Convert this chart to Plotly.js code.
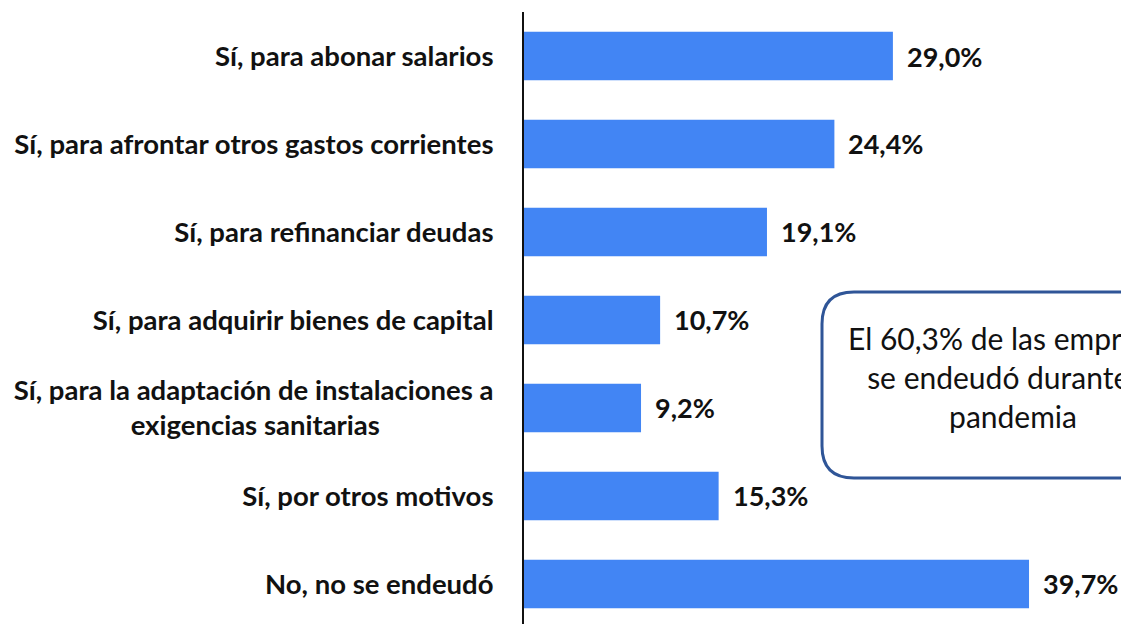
<!DOCTYPE html>
<html>
<head>
<meta charset="utf-8">
<script src="https://cdn.plot.ly/plotly-3.0.1.min.js"></script>
<style>
  html, body { margin: 0; padding: 0; background: #fff; }
  #chart { width: 1121px; height: 624px; }
</style>
</head>
<body>
<div id="chart"></div>
<script>
// --- Data ---
const categories = [
    'Sí, para abonar salarios',
    'Sí, para afrontar otros gastos corrientes',
    'Sí, para refinanciar deudas',
    'Sí, para adquirir bienes de capital',
    'Sí, para la adaptación de instalaciones a<br>exigencias sanitarias' + '\u00a0'.repeat(17),
    'Sí, por otros motivos',
    'No, no se endeudó'
];
const values = [29.0, 24.4, 19.1, 10.7, 9.2, 15.3, 39.7];
const noteText = 'El 60,3% de las empresas<br>se endeudó durante la<br>pandemia';

const fmt = v => v.toFixed(1).replace('.', ',') + '%';
const font = 'Lato, "Open Sans", sans-serif';

// --- Bars ---
const trace = {
    type: 'bar',
    orientation: 'h',
    x: values,
    y: categories,
    marker: { color: '#4285F4' },
    width: 0.55,
    hoverinfo: 'skip'
};

// value labels sit just past the bar end
const labels = values.map((v, i) => ({
    x: v,
    y: categories[i],
    xref: 'x',
    yref: 'y',
    text: fmt(v),
    showarrow: false,
    xanchor: 'left',
    xshift: 12,
    font: { family: font, size: 27, color: '#111', weight: 'bold' }
}));

// --- Rounded note box (paper coords) ---
const W = 1121 - 524, H = 624 - 12;
const px = x => (x - 524) / W;
const py = y => 1 - (y - 12) / H;
const bx0 = 822, bx1 = 1204, by0 = 292, by1 = 478, r = 32;
const boxPath = [
    `M ${px(bx0 + r)} ${py(by0)}`,
    `L ${px(bx1 - r)} ${py(by0)}`,
    `Q ${px(bx1)} ${py(by0)} ${px(bx1)} ${py(by0 + r)}`,
    `L ${px(bx1)} ${py(by1 - r)}`,
    `Q ${px(bx1)} ${py(by1)} ${px(bx1 - r)} ${py(by1)}`,
    `L ${px(bx0 + r)} ${py(by1)}`,
    `Q ${px(bx0)} ${py(by1)} ${px(bx0)} ${py(by1 - r)}`,
    `L ${px(bx0)} ${py(by0 + r)}`,
    `Q ${px(bx0)} ${py(by0)} ${px(bx0 + r)} ${py(by0)}`,
    'Z'
].join(' ');

const layout = {
    width: 1121,
    height: 624,
    margin: { l: 524, r: 0, t: 12, b: 0 },
    paper_bgcolor: '#fff',
    plot_bgcolor: '#fff',
    showlegend: false,
    font: { family: font, color: '#111' },
    xaxis: {
        range: [0, 46.93],
        showgrid: false,
        zeroline: false,
        showticklabels: false,
        showline: false
    },
    yaxis: {
        type: 'category',
        categoryorder: 'array',
        categoryarray: categories,
        range: [6.455, -0.5],
        showgrid: false,
        zeroline: false,
        showline: true,
        linecolor: '#111',
        linewidth: 2,
        ticks: 'outside',
        ticklen: 23,
        tickcolor: 'rgba(0,0,0,0)',
        tickfont: { family: font, size: 27.5, color: '#111', weight: 'bold' }
    },
    shapes: [{
        type: 'path',
        xref: 'paper',
        yref: 'paper',
        path: boxPath,
        line: { color: '#2F5597', width: 3 },
        fillcolor: '#fff',
        layer: 'above'
    }],
    annotations: labels.concat([{
        xref: 'paper',
        yref: 'paper',
        x: px((bx0 + bx1) / 2),
        y: py((by0 + by1) / 2 - 8),
        xanchor: 'center',
        yanchor: 'middle',
        text: noteText,
        showarrow: false,
        align: 'center',
        font: { family: font, size: 30, color: '#111' }
    }])
};

Plotly.newPlot('chart', [trace], layout, { displayModeBar: false, staticPlot: true });
</script>
</body>
</html>
